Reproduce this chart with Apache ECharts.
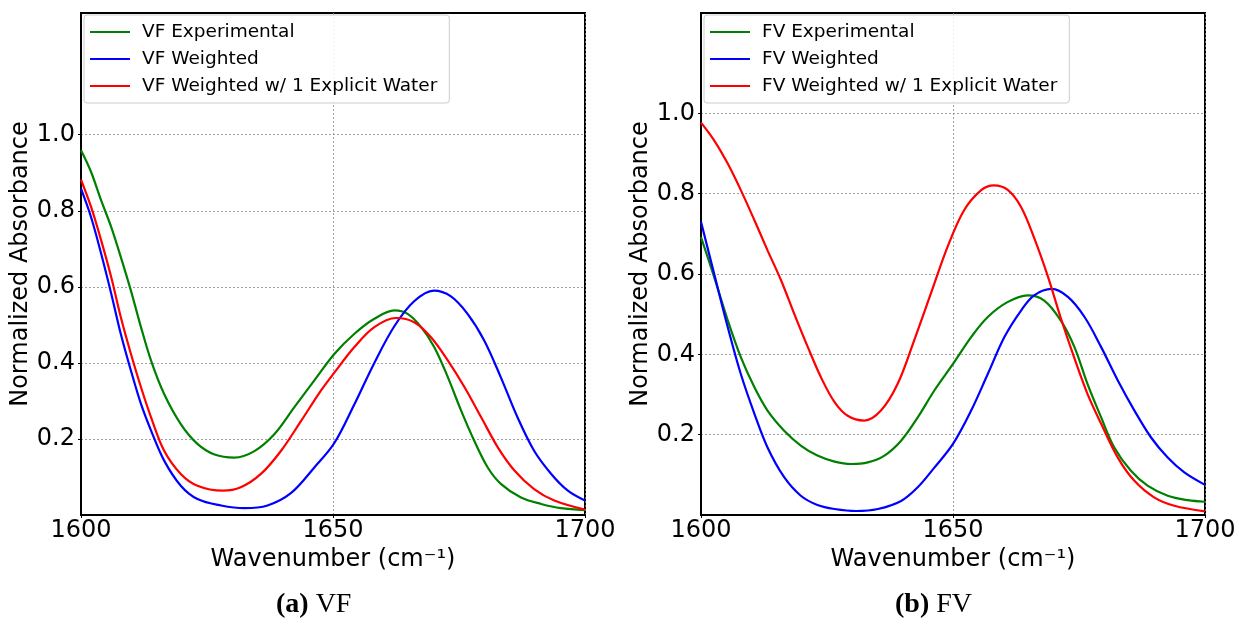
<!DOCTYPE html>
<html>
<head>
<meta charset="utf-8">
<script src="https://cdn.jsdelivr.net/npm/echarts@6/dist/echarts.min.js"></script>
<style>
  html,body{margin:0;padding:0;background:#fff;}
  #main{width:1239px;height:618px;}
</style>
</head>
<body>
<div id="main"></div>
<script>
// 数据 (a) VF
var vfExp = [[1600,0.959],[1602,0.902],[1604,0.827],[1606,0.757],[1607.9,0.678],[1609.9,0.59],[1611.9,0.494],[1613.9,0.406],[1616.5,0.318],[1619.8,0.239],[1623.1,0.187],[1626.5,0.159],[1630.4,0.151],[1634.4,0.168],[1638.4,0.213],[1642.3,0.283],[1646.3,0.354],[1650.3,0.424],[1654.2,0.476],[1658.2,0.516],[1662.2,0.538],[1664.8,0.529],[1667.5,0.494],[1670.1,0.441],[1672.8,0.362],[1675.4,0.275],[1678,0.196],[1680.7,0.125],[1683.3,0.082],[1687.3,0.046],[1691.3,0.029],[1695.2,0.018],[1700,0.013]];
var vfW = [[1600,0.858],[1602,0.783],[1604,0.687],[1606,0.582],[1607.9,0.476],[1609.9,0.38],[1611.9,0.292],[1613.9,0.222],[1616.5,0.143],[1619.8,0.077],[1623.1,0.042],[1627.8,0.025],[1632.4,0.018],[1637,0.025],[1641.7,0.058],[1646.3,0.125],[1650.3,0.19],[1654.2,0.29],[1658.2,0.4],[1662.2,0.497],[1666.1,0.562],[1670,0.59],[1673.4,0.575],[1676.7,0.529],[1680,0.459],[1683.3,0.362],[1686.6,0.257],[1689.9,0.169],[1693.3,0.108],[1696.6,0.064],[1700,0.038]];
var vfWW = [[1600,0.882],[1602,0.81],[1604,0.722],[1606,0.625],[1607.9,0.52],[1609.9,0.424],[1611.9,0.336],[1613.9,0.257],[1616.5,0.169],[1619.8,0.108],[1623.1,0.077],[1628.1,0.064],[1631.7,0.073],[1635.7,0.108],[1639.7,0.169],[1643.7,0.248],[1647.6,0.327],[1650.3,0.375],[1654.2,0.441],[1658.2,0.494],[1662.5,0.518],[1666.1,0.507],[1669.4,0.468],[1672.8,0.406],[1676.1,0.336],[1679.4,0.257],[1682.7,0.178],[1686,0.117],[1689.9,0.068],[1693.9,0.038],[1700,0.014]];
// 数据 (b) FV
var fvExp = [[1600,0.692],[1602.6,0.593],[1605.3,0.485],[1607.9,0.393],[1610.6,0.318],[1613.2,0.26],[1616.5,0.21],[1619.8,0.173],[1623.1,0.148],[1626.5,0.133],[1629.8,0.127],[1633.1,0.131],[1636.4,0.148],[1639.7,0.185],[1643,0.243],[1646.3,0.31],[1650,0.376],[1653.6,0.443],[1656.9,0.493],[1660.8,0.53],[1664.8,0.547],[1668.1,0.534],[1671.4,0.484],[1674.1,0.418],[1676.7,0.326],[1679.4,0.243],[1682,0.168],[1685.3,0.11],[1688.6,0.073],[1692.6,0.048],[1696.6,0.037],[1700,0.033]];
var fvW = [[1600,0.73],[1602.6,0.601],[1605.3,0.468],[1607.9,0.351],[1610.6,0.252],[1613.2,0.168],[1616.5,0.094],[1619.8,0.048],[1623.1,0.025],[1626.5,0.015],[1630.8,0.01],[1635.1,0.015],[1639.7,0.035],[1643,0.069],[1646.3,0.118],[1650,0.177],[1653.6,0.26],[1656.9,0.351],[1660.2,0.443],[1663.5,0.509],[1666.1,0.547],[1669.6,0.563],[1672.8,0.543],[1676.1,0.493],[1679.4,0.418],[1682.7,0.335],[1686,0.26],[1689.3,0.193],[1692.6,0.143],[1695.9,0.106],[1700,0.075]];
var fvWW = [[1600,0.977],[1602.6,0.933],[1605.3,0.875],[1607.9,0.809],[1610.6,0.734],[1613.2,0.659],[1615.9,0.584],[1618.5,0.501],[1621.2,0.418],[1623.8,0.343],[1626.5,0.281],[1629.1,0.247],[1632.4,0.235],[1635.7,0.26],[1639,0.326],[1642.3,0.435],[1645.6,0.551],[1648.9,0.667],[1652.2,0.759],[1655.6,0.809],[1658.1,0.821],[1660.8,0.81],[1663.5,0.767],[1666.1,0.69],[1668.8,0.595],[1671.4,0.49],[1674.1,0.39],[1676.7,0.301],[1679.4,0.227],[1682.7,0.143],[1686,0.085],[1689.9,0.044],[1693.9,0.023],[1700,0.009]];

var yTicks = [0.2, 0.4, 0.6, 0.8, 1.0];
var xTicks = [1600, 1650, 1700];
var namesA = ['VF Experimental', 'VF Weighted', 'VF Weighted w/ 1 Explicit Water'];
var namesB = ['FV Experimental', 'FV Weighted', 'FV Weighted w/ 1 Explicit Water'];
var colors = ['#008000', '#0000ff', '#ff0000'];

var font = 'DejaVu Sans';
var gridLine = { show: true, lineStyle: { color: '#888', width: 0.8, type: [2, 2] } };

function xAxis(idx) {
  return {
    gridIndex: idx, type: 'value', min: 1600, max: 1700, interval: 50,
    name: 'Wavenumber (cm\u207B\u00B9)', nameLocation: 'middle', nameGap: 25,
    nameTextStyle: { fontFamily: font, fontSize: 24, color: '#000' },
    axisLine: { lineStyle: { color: '#000', width: 2 } },
    axisTick: { show: true, length: 3, lineStyle: { color: '#000' } },
    axisLabel: { fontFamily: font, fontSize: 24, color: '#000', margin: 4,
      formatter: function (v) { return xTicks.indexOf(v) >= 0 ? v : ''; } },
    splitLine: gridLine
  };
}
function yAxis(idx, max) {
  return {
    gridIndex: idx, type: 'value', min: 0, max: max,
    name: 'Normalized Absorbance', nameLocation: 'middle', nameGap: 45,
    nameTextStyle: { fontFamily: font, fontSize: 24, color: '#000' },
    axisLine: { lineStyle: { color: '#000', width: 2 } },
    axisTick: { show: true, length: 3, customValues: yTicks, lineStyle: { color: '#000' } },
    axisLabel: { fontFamily: font, fontSize: 24, color: '#000', margin: 6, customValues: yTicks,
      formatter: function (v) { return v.toFixed(1); } },
    splitLine: gridLine
  };
}
// 图例 (方框, 线形图标)
function legend(left, names) {
  return {
    data: names, orient: 'vertical', left: left, top: 15,
    icon: 'rect', itemWidth: 40, itemHeight: 2, itemGap: 7,
    padding: [7, 12, 7, 6],
    backgroundColor: 'rgba(255,255,255,0.85)', borderColor: '#ccc', borderWidth: 1, borderRadius: 3,
    textStyle: { fontFamily: font, fontSize: 18.5, color: '#000', lineHeight: 20, padding: [0, 0, 0, 7] }
  };
}
function line(name, data, idx, c) {
  return {
    name: name, type: 'line', xAxisIndex: idx, yAxisIndex: idx, data: data,
    smooth: 0.35, showSymbol: false, symbol: 'none',
    lineStyle: { color: c, width: 2.2 }, itemStyle: { color: c }, z: 3
  };
}

var myChart = echarts.init(document.getElementById('main'));
var option = {
  animation: false,
  backgroundColor: '#fff',
  grid: [
    { left: 81, top: 13, width: 504, height: 502, show: true, borderColor: '#000', borderWidth: 2, backgroundColor: 'transparent' },
    { left: 701, top: 13, width: 504, height: 502, show: true, borderColor: '#000', borderWidth: 2, backgroundColor: 'transparent' }
  ],
  xAxis: [xAxis(0), xAxis(1)],
  yAxis: [yAxis(0, 1.32), yAxis(1, 1.25)],
  legend: [legend(84, namesA), legend(704, namesB)],
  series: [
    line(namesA[0], vfExp, 0, colors[0]),
    line(namesA[1], vfW, 0, colors[1]),
    line(namesA[2], vfWW, 0, colors[2]),
    line(namesB[0], fvExp, 1, colors[0]),
    line(namesB[1], fvW, 1, colors[1]),
    line(namesB[2], fvWW, 1, colors[2])
  ],
  graphic: [
    { type: 'text', left: 276, top: 591, style: { text: '{b|(a)} VF', fontFamily: 'Liberation Serif', fontSize: 28, fill: '#000',
      rich: { b: { fontFamily: 'Liberation Serif', fontSize: 28, fontWeight: 'bold' } } } },
    { type: 'text', left: 895, top: 591, style: { text: '{b|(b)} FV', fontFamily: 'Liberation Serif', fontSize: 28, fill: '#000',
      rich: { b: { fontFamily: 'Liberation Serif', fontSize: 28, fontWeight: 'bold' } } } }
  ]
};
myChart.setOption(option);
</script>
</body>
</html>
